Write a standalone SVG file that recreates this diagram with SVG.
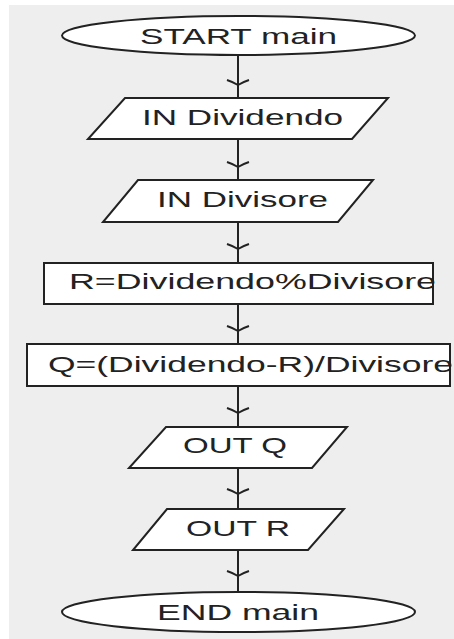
<svg xmlns="http://www.w3.org/2000/svg" width="454" height="639" viewBox="0 0 454 639">
<defs>
<style>
.shape{fill:#ffffff;stroke:#222222;stroke-width:2}
.lbl{font-family:"Liberation Sans",Arial,sans-serif;font-size:22px;fill:#222222}
.conn{fill:none;stroke:#222222;stroke-width:2;marker-mid:url(#chev)}
</style>
<marker id="chev" markerUnits="userSpaceOnUse" orient="auto" markerWidth="20" markerHeight="26" refX="10" refY="13" viewBox="0 0 20 26" overflow="visible">
<path d="M5,2 Q7,8 10,13 Q7,18 5,24" fill="none" stroke="#222222" stroke-width="2"/>
</marker>
</defs>
<rect x="0" y="0" width="454" height="639" fill="#ffffff"/>
<rect x="9" y="5" width="445" height="634" fill="#eeeeee"/>
<g id="connectors">
<path class="conn" d="M238,55 L238,85 L238,98"/>
<path class="conn" d="M238,139 L238,167 L238,180"/>
<path class="conn" d="M238,222 L238,249 L238,263"/>
<path class="conn" d="M238,304 L238,331 L238,344"/>
<path class="conn" d="M238,386 L238,413 L238,427"/>
<path class="conn" d="M238,468 L238,494 L238,509"/>
<path class="conn" d="M238,550 L238,576 L238,592"/>
</g>
<g id="start">
<ellipse class="shape" cx="238.5" cy="35.5" rx="176.5" ry="19.5"/>
<text class="lbl" x="140" y="44" textLength="197" lengthAdjust="spacingAndGlyphs">START main</text>
</g>
<g id="in-dividendo">
<polygon class="shape" points="125,98 388,98 352,139 88,139"/>
<text class="lbl" x="142" y="125" textLength="201" lengthAdjust="spacingAndGlyphs">IN Dividendo</text>
</g>
<g id="in-divisore">
<polygon class="shape" points="138,180 373,180 338,222 103,222"/>
<text class="lbl" x="157" y="207" textLength="171" lengthAdjust="spacingAndGlyphs">IN Divisore</text>
</g>
<g id="calc-r">
<rect class="shape" x="44" y="263" width="389" height="41"/>
<text class="lbl" x="69" y="289" textLength="367" lengthAdjust="spacingAndGlyphs">R=Dividendo%Divisore</text>
</g>
<g id="calc-q">
<rect class="shape" x="27" y="344" width="423" height="42"/>
<text class="lbl" x="48" y="372" textLength="405" lengthAdjust="spacingAndGlyphs">Q=(Dividendo-R)/Divisore</text>
</g>
<g id="out-q">
<polygon class="shape" points="166,427 347,427 312,468 129,468"/>
<text class="lbl" x="183" y="453" textLength="104" lengthAdjust="spacingAndGlyphs">OUT Q</text>
</g>
<g id="out-r">
<polygon class="shape" points="167,509 344,509 308,550 133,550"/>
<text class="lbl" x="186" y="536" textLength="104" lengthAdjust="spacingAndGlyphs">OUT R</text>
</g>
<g id="end">
<ellipse class="shape" cx="238.5" cy="612" rx="176.5" ry="20"/>
<text class="lbl" x="157" y="620" textLength="162" lengthAdjust="spacingAndGlyphs">END main</text>
</g>
</svg>
